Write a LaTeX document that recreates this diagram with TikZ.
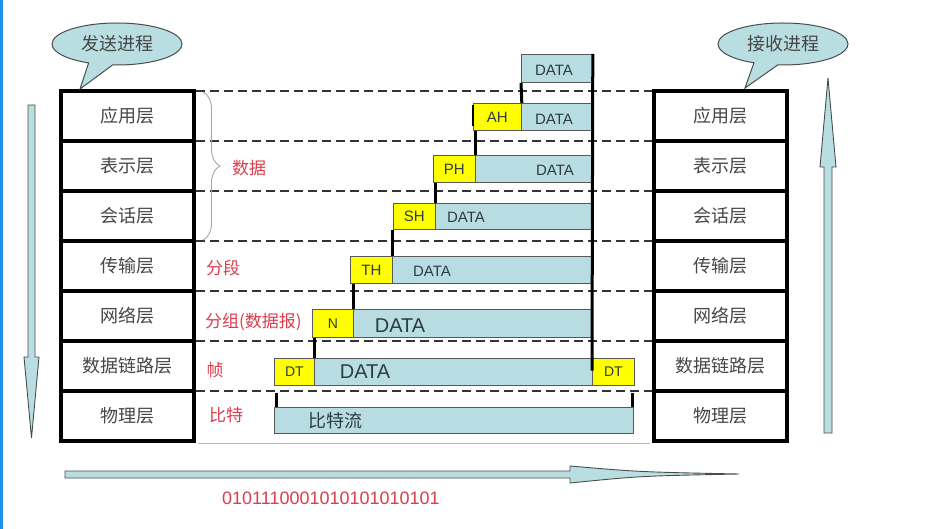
\documentclass[tikz,border=0pt]{standalone}
\usepackage{fontspec}
\setmainfont{Liberation Sans}
\newfontfamily\cjk{Noto Sans CJK SC}
\usetikzlibrary{shapes.callouts,decorations.pathreplacing,calc}
\definecolor{pdublue}{RGB}{183,221,226}
\definecolor{hdryellow}{RGB}{255,255,0}
\definecolor{lbl}{RGB}{70,70,70}
\definecolor{datatext}{RGB}{45,60,68}
\definecolor{redlbl}{RGB}{222,60,75}
\definecolor{arrowfill}{RGB}{185,222,225}
\definecolor{edgeblue}{RGB}{30,144,230}
\begin{document}
\begin{tikzpicture}[x=1pt,y=-1pt,
  layer/.style={draw=black,line width=4pt,minimum width=133pt,minimum height=50pt,inner sep=0pt,font=\cjk\fontsize{18}{20}\selectfont,text=lbl},
  pdubox/.style={draw=gray!70!black,line width=0.8pt,fill=pdublue,inner sep=0pt,anchor=north west},
  hdrbox/.style={draw=gray!70!black,line width=0.8pt,fill=hdryellow,inner sep=0pt,anchor=north west,font=\fontsize{15}{17}\selectfont,text=datatext},
  datasmall/.style={font=\fontsize{15}{17}\selectfont,text=datatext,inner sep=0pt},
  databig/.style={font=\fontsize{20}{22}\selectfont,text=datatext,inner sep=0pt},
  redtext/.style={font=\cjk\fontsize{17}{19}\selectfont,text=redlbl,inner sep=0pt},
  layerdash/.style={draw=black!80,line width=2.2pt,dash pattern=on 9pt off 5pt},
  tickline/.style={draw=black,line width=3pt},
  bubble/.style={ellipse callout,draw=gray!60!black,fill=arrowfill,line width=1pt,minimum width=130pt,minimum height=42pt,inner sep=0pt,font=\cjk\fontsize{18}{20}\selectfont,text=lbl,callout pointer arc=22},
  bigarrow/.style={fill=arrowfill,draw=gray!60!black,line width=0.9pt}
]
\useasboundingbox (0,0) rectangle (950,529);
\fill[white] (0,0) rectangle (950,529);
\fill[edgeblue] (0,0) rectangle (2.5,529);

% dashed boundaries (drawn first, stacks cover their ends)
\foreach \y in {91,141,191,241,291,341,391}{
  \draw[layerdash] (196,\y) -- (652,\y);
}

% left stack
\node[layer] (L1) at (127.5,116) {应用层};
\node[layer] (L2) at (127.5,166) {表示层};
\node[layer] (L3) at (127.5,216) {会话层};
\node[layer] (L4) at (127.5,266) {传输层};
\node[layer] (L5) at (127.5,316) {网络层};
\node[layer] (L6) at (127.5,366) {数据链路层};
\node[layer] (L7) at (127.5,416) {物理层};
% right stack
\node[layer] (R1) at (720,116) {应用层};
\node[layer] (R2) at (720,166) {表示层};
\node[layer] (R3) at (720,216) {会话层};
\node[layer] (R4) at (720,266) {传输层};
\node[layer] (R5) at (720,316) {网络层};
\node[layer] (R6) at (720,366) {数据链路层};
\node[layer] (R7) at (720,416) {物理层};

\draw[gray!50,line width=1pt] ([xshift=2pt]L7.south east) -- ([xshift=-2pt]R7.south west);

% brace and red labels
\draw[gray!70,line width=0.9pt,decorate,decoration={brace,amplitude=17pt}] (203,92) -- (203,240);
\node[redtext] (lbdata) at (249,168) {数据};
\node[redtext] (lbseg) at (223,268) {分段};
\node[redtext,anchor=west] (lbpkt) at (205,322) {分组(数据报)};
\node[redtext] (lbframe) at (215,370) {帧};
\node[redtext] (lbbit) at (226,415) {比特};

% PDU boxes
\node[pdubox,minimum width=71pt,minimum height=28pt] (d0) at (521,54) {};
\node[hdrbox,minimum width=48pt,minimum height=27pt] (ah) at (473,103) {AH};
\node[pdubox,minimum width=71pt,minimum height=27pt] (d1) at (521,103) {};
\node[hdrbox,minimum width=42pt,minimum height=27pt] (ph) at (433,155) {PH};
\node[pdubox,minimum width=117pt,minimum height=27pt] (d2) at (475,155) {};
\node[hdrbox,minimum width=42pt,minimum height=26pt] (sh) at (393,203) {SH};
\node[pdubox,minimum width=157pt,minimum height=26pt] (d3) at (435,203) {};
\node[hdrbox,minimum width=42pt,minimum height=27pt] (th) at (350,256) {TH};
\node[pdubox,minimum width=200pt,minimum height=27pt] (d4) at (392,256) {};
\node[hdrbox,minimum width=41pt,minimum height=28pt,font=\fontsize{14}{16}\selectfont] (nh) at (312,309) {N};
\node[pdubox,minimum width=239pt,minimum height=28pt] (d5) at (353,309) {};
\node[hdrbox,minimum width=40pt,minimum height=27pt,font=\fontsize{14}{16}\selectfont] (dt1) at (274,358) {DT};
\node[pdubox,minimum width=278pt,minimum height=27pt] (d6) at (314,358) {};
\node[hdrbox,minimum width=42pt,minimum height=27pt,font=\fontsize{14}{16}\selectfont] (dt2) at (592,358) {DT};
\node[pdubox,minimum width=359pt,minimum height=26pt] (bits) at (274,407) {};

% DATA texts
\node[datasmall] (t0) at (554,70) {DATA};
\node[datasmall] (t1) at (554,119) {DATA};
\node[datasmall] (t2) at (555,170) {DATA};
\node[datasmall] (t3) at (466,217) {DATA};
\node[datasmall] (t4) at (432,271) {DATA};
\node[databig] (t5) at (400,326) {DATA};
\node[databig] (t6) at (365,372) {DATA};
\node[font=\cjk\fontsize{18}{20}\selectfont,text=datatext,inner sep=0pt] (tb) at (335,421) {比特流};

% connectors
\draw[tickline] (d0.south west) -- (ah.north east);
\draw[line width=2.5pt] ([yshift=-2pt]ah.north west) -- ([yshift=5pt]ah.south west);
\draw[tickline] (ph.north east) -- (ph.north east |- ah.south);
\draw[tickline] (sh.north east) -- (sh.north east |- ph.south);
\draw[tickline] (th.north east) -- (th.north east |- sh.south);
\draw[tickline] (nh.north east) -- (nh.north east |- th.south);
\draw[tickline] (dt1.north east) -- (dt1.north east |- nh.south);
\coordinate (bigend) at ($(dt2.north west)!0.45!(dt2.south west)$);
\draw[tickline] (d0.north east) -- (bigend);
\draw[tickline] ([xshift=2pt]bits.north west) -- ([xshift=2pt]bits.north west |- L6.south);
\draw[tickline] ([xshift=-1pt]bits.north east) -- ([xshift=-1pt]bits.north east |- L6.south);

% bubbles
\node[bubble,callout absolute pointer={(80,89)}] (send) at (117,44) {发送进程};
\node[bubble,callout absolute pointer={(745,88)}] (recv) at (783,44) {接收进程};

% big arrows
\path[bigarrow] (28,105) -- (35,105) -- (35,357) -- (39,357) -- (31.5,438) -- (24,357) -- (28,357) -- cycle;
\path[bigarrow] (824,433) -- (832,433) -- (832,167) -- (836,167) -- (828,78) -- (820,167) -- (824,167) -- cycle;
\path[bigarrow] (65,471) -- (570,471) -- (570,466) .. controls (640,472) .. (739,474) .. controls (640,476) .. (570,483) -- (570,478) -- (65,478) -- cycle;

\node[font=\fontsize{18}{20}\selectfont,text=redlbl,inner sep=0pt] (bitsval) at (331,498) {0101110001010101010101};
\end{tikzpicture}
\end{document}
